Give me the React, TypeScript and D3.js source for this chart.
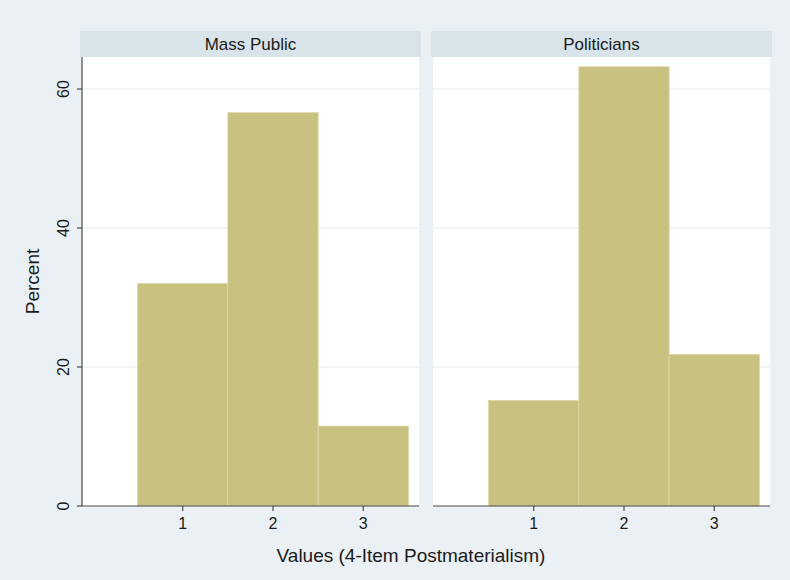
import * as d3 from 'd3';

// Histogram of 4-item postmaterialism values, by group
const panels = ['Mass Public', 'Politicians'];
const categories = [1, 2, 3];
const massPublic = [32.0, 56.6, 11.5];
const politicians = [15.2, 63.2, 21.8];
const yTicks = [0, 20, 40, 60];
const xTicks = [1, 2, 3];

const W = 790;
const H = 580;
const plotTop = 57;
const plotBottom = 506;
const panelLeft = [82, 433];
const panelWidth = 337;
const stripH = 26;

const BG = '#eaf0f4';
const STRIP = '#d9e3ea';
const BAR = '#c9c17f';
const AXIS = '#4a4a4a';
const FONT = '"Liberation Sans", Arial, Helvetica, sans-serif';

const App = () => {
  const y = d3.scaleLinear().domain([0, 60]).range([plotBottom, 89]);
  const series = [massPublic, politicians];

  return (
    <div style={{ position: 'absolute', left: 0, top: 0 }}>
      <svg width={W} height={H} style={{ display: 'block', fontFamily: FONT }}>
        <rect x={0} y={0} width={W} height={H} fill={BG} />
        {panels.map((name, i) => {
          const x0 = panelLeft[i];
          const x = d3.scaleLinear().domain([-0.115, 3.617]).range([x0, x0 + panelWidth]);
          const vals = series[i];
          return (
            <g key={name}>
              {/* strip */}
              <rect x={x0 - 2} y={plotTop - stripH} width={panelWidth + 4} height={stripH} fill={STRIP} />
              <text x={x0 + panelWidth / 2} y={plotTop - 7} textAnchor="middle" fontSize={17} fill="#1a1a1a">
                {name}
              </text>
              {/* plot region */}
              <rect x={x0} y={plotTop} width={panelWidth} height={plotBottom - plotTop} fill="#ffffff" />
              {yTicks.filter(t => t > 0).map(t => (
                <line key={t} x1={x0} x2={x0 + panelWidth} y1={y(t)} y2={y(t)} stroke="#edf1f4" strokeWidth={1.5} />
              ))}
              {/* bars */}
              {categories.map((c, j) => (
                <rect
                  key={c}
                  x={x(c - 0.5)}
                  y={y(vals[j])}
                  width={x(c + 0.5) - x(c - 0.5)}
                  height={y(0) - y(vals[j])}
                  fill={BAR}
                  stroke="#dcd7a8"
                  strokeWidth={0.8}
                />
              ))}
              {/* x axis */}
              <line x1={x0} x2={x0 + panelWidth} y1={plotBottom} y2={plotBottom} stroke={AXIS} strokeWidth={1.2} />
              {xTicks.map(t => (
                <g key={t} transform={`translate(${x(t)},${plotBottom})`}>
                  <line y1={0} y2={5} stroke={AXIS} strokeWidth={1.2} />
                  <text y={23} textAnchor="middle" fontSize={16} fill="#1a1a1a">{t}</text>
                </g>
              ))}
            </g>
          );
        })}
        {/* y axis on first panel */}
        <line x1={panelLeft[0]} x2={panelLeft[0]} y1={plotTop} y2={plotBottom} stroke={AXIS} strokeWidth={1.2} />
        {yTicks.map(t => (
          <g key={t} transform={`translate(${panelLeft[0]},${y(t)})`}>
            <line x1={-5} x2={0} stroke={AXIS} strokeWidth={1.2} />
            <text transform="translate(-13,0) rotate(-90)" textAnchor="middle" fontSize={16} fill="#1a1a1a">{t}</text>
          </g>
        ))}
        <text transform={`translate(39,${(plotTop + plotBottom) / 2}) rotate(-90)`} textAnchor="middle" fontSize={19} fill="#1a1a1a">
          Percent
        </text>
        <text x={411} y={562} textAnchor="middle" fontSize={19} fill="#1a1a1a">
          Values (4-Item Postmaterialism)
        </text>
      </svg>
    </div>
  );
};

export default App;
